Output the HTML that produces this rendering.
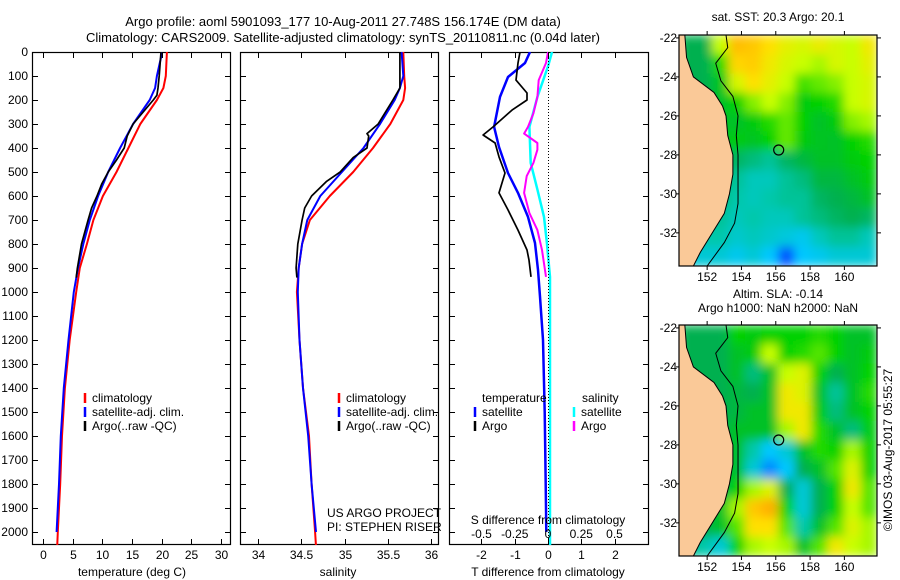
<!DOCTYPE html>
<html><head><meta charset="utf-8">
<style>
html,body{margin:0;padding:0;background:#fff;}
svg{display:block;font-family:"Liberation Sans",sans-serif;}
text{fill:#000;}
</style></head>
<body>
<svg id="c" width="900" height="580" viewBox="0 0 900 580">
<defs><filter id="smooth" x="0" y="0" width="1" height="1"><feGaussianBlur stdDeviation="5" edgeMode="duplicate"/></filter></defs>
</svg>
<script>
// ---------- data ----------
const depthTicks=[0,100,200,300,400,500,600,700,800,900,1000,1100,1200,1300,1400,1500,1600,1700,1800,1900,2000];
const tempTicks=[0,5,10,15,20,25,30];
const salTicks=[34,34.5,35,35.5,36];
const salTickLabels=["34","34.5","35","35.5","36"];
const dtTicks=[-2,-1,0,1,2];
const dsTicks=[-0.5,-0.25,0,0.25,0.5];
const dsTickLabels=["-0.5","-0.25","0","0.25","0.5"];

const climDepth=[0,100,150,200,300,400,500,600,700,800,900,1000,1200,1400,1600,1800,2000,2060];
const tempClim=[20.9,20.7,20.3,19.2,16.4,14.4,12.4,10.1,8.5,7.4,6.2,5.6,4.5,3.7,3.2,2.9,2.5,2.4];
const satDepth=[0,100,150,200,300,400,500,600,700,800,900,1000,1200,1400,1600,1800,2000];
const tempSat=[20.1,19.2,18.9,18.0,15.2,13.0,11.0,9.3,7.9,6.8,5.9,5.2,4.3,3.5,3.0,2.7,2.3];
const argoTempDepth=[0,100,150,180,200,250,300,350,400,450,500,550,600,650,700,800,900,940];
const argoTemp=[19.9,19.6,19.4,19.2,18.6,16.9,15.2,14.2,13.7,12.4,11.0,9.9,9.1,8.2,7.6,6.5,5.8,5.6];

const salClim=[35.68,35.69,35.70,35.68,35.53,35.33,35.10,34.83,34.60,34.51,34.47,34.45,34.48,34.52,34.59,34.62,34.66,34.67];
const salSat=[35.66,35.68,35.64,35.58,35.41,35.22,34.97,34.72,34.57,34.51,34.47,34.46,34.48,34.52,34.58,34.62,34.67];
const argoSalDepth=[0,50,150,200,300,340,350,400,440,500,540,600,650,700,800,900,940];
const argoSal=[35.64,35.64,35.64,35.56,35.39,35.26,35.28,35.26,35.10,34.95,34.79,34.62,34.54,34.51,34.46,34.44,34.45];

const argoDTdepth=[0,46,117,171,200,242,312,346,379,437,504,587,658,742,825,867,937];
const argoDT=[-0.84,-0.9,-0.96,-0.63,-0.63,-1.08,-1.65,-1.95,-1.59,-1.47,-1.29,-1.47,-1.2,-0.9,-0.63,-0.57,-0.51];
const satDTdepth=[0,46,104,187,312,396,504,587,687,796,908,1019,1200,1500,1800,2000];
const satDT=[-0.54,-0.69,-1.2,-1.44,-1.62,-1.47,-1.2,-0.9,-0.6,-0.39,-0.3,-0.24,-0.15,-0.1,-0.07,-0.05];
const argoDSdepth=[0,46,117,187,256,312,340,379,407,462,517,587,671,742,825,937];
const argoDS=[0,-0.015,-0.07,-0.08,-0.11,-0.15,-0.18,-0.08,-0.08,-0.11,-0.16,-0.18,-0.14,-0.08,-0.045,-0.015];
const satDSdepth=[0,60,187,312,462,573,687,796,937,1200,1600,2000,2060];
const satDS=[0.03,0,-0.08,-0.14,-0.13,-0.08,-0.03,-0.008,0.015,0.015,0.015,0.015,0.015];

const lonTicks=[152,154,156,158,160];
const latTicks=[-22,-24,-26,-28,-30,-32];
const sstGrid=[
[.5,.5,.72,.87,.85,.8,.76,.74,.77,.74,.72,.78],
[.5,.5,.62,.82,.84,.78,.74,.72,.7,.74,.72,.76],
[.5,.5,.56,.74,.8,.76,.72,.64,.66,.68,.72,.74],
[.5,.5,.55,.6,.68,.72,.68,.58,.6,.62,.72,.74],
[.5,.5,.55,.55,.58,.62,.66,.6,.55,.58,.68,.7],
[.5,.5,.55,.58,.56,.6,.66,.58,.56,.55,.6,.62],
[.5,.5,.5,.48,.45,.42,.48,.52,.55,.55,.58,.6],
[.45,.45,.45,.42,.38,.38,.42,.45,.52,.52,.55,.58],
[.45,.45,.45,.4,.38,.4,.42,.42,.48,.5,.52,.55],
[.45,.45,.42,.38,.4,.38,.38,.42,.45,.48,.5,.48],
[.4,.4,.4,.36,.38,.36,.34,.32,.38,.42,.42,.38],
[.35,.35,.35,.32,.35,.3,.2,.3,.32,.35,.35,.35]];
const slaGrid=[
[.5,.5,.5,.6,.58,.6,.6,.6,.62,.6,.55,.55],
[.5,.5,.5,.55,.58,.72,.6,.62,.65,.6,.55,.58],
[.5,.5,.5,.55,.45,.55,.72,.75,.6,.5,.55,.6],
[.5,.5,.5,.52,.5,.55,.78,.75,.55,.42,.55,.62],
[.5,.5,.5,.52,.55,.55,.78,.78,.58,.45,.55,.6],
[.5,.5,.5,.55,.55,.55,.7,.78,.62,.55,.45,.58],
[.5,.5,.5,.55,.4,.3,.35,.55,.62,.6,.7,.6],
[.5,.5,.5,.55,.35,.25,.3,.5,.55,.65,.75,.6],
[.5,.5,.5,.6,.7,.75,.5,.35,.5,.6,.78,.65],
[.5,.5,.55,.7,.85,.9,.6,.35,.5,.6,.72,.65],
[.5,.5,.55,.65,.8,.8,.65,.4,.55,.65,.75,.7],
[.45,.4,.35,.6,.7,.72,.7,.55,.65,.78,.72,.7]];
const coastLon=[150.7,150.8,151.2,152.4,152.9,153.1,153.2,153.5,153.5,153.3,153.0,152.3,151.6,151.2];
const coastLat=[-21.85,-23,-24,-24.8,-25.5,-26,-27,-28,-29,-30,-31,-32,-33,-33.7];
const isoLon=[153.1,153.2,152.5,152.8,153.5,153.8,153.7,153.8,153.8,153.8,153.6,153.0,152.0];
const isoLat=[-21.85,-22.5,-23.3,-24.2,-25,-26,-27,-28,-29.5,-30.5,-31.5,-32.5,-33.7];
const argoLon=156.17, argoLat=-27.75;

// ---------- helpers ----------
const NS="http://www.w3.org/2000/svg";
const svg=document.getElementById('c');
function el(tag,attrs,parent){const e=document.createElementNS(NS,tag);for(const k in attrs)e.setAttribute(k,attrs[k]);(parent||svg).appendChild(e);return e;}
function txt(x,y,s,anchor,size,parent){const t=el('text',{x:x,y:y,'text-anchor':anchor||'middle','font-size':size||12},parent);t.textContent=s;return t;}

const TOP=52,BOT=545;
const yD=d=>TOP+0.24*d;
const xT=v=>43+5.93*v;
const xS=v=>258+86.5*(v-34);
const xDT=v=>548+33.3*v;
const xDS=v=>548+133*v;

let t1=txt(343,26,"Argo profile: aoml 5901093_177 10-Aug-2011 27.748S 156.174E (DM data)",'middle',13);


let t2=txt(343,42,"Climatology: CARS2009. Satellite-adjusted climatology: synTS_20110811.nc (0.04d later)",'middle',13);



function panel(name,x0,x1){
  const g=el('g',{});
  
  
  const cp=el('clipPath',{id:'cp-'+name},g);
  el('rect',{x:x0,y:TOP,width:x1-x0,height:BOT-TOP},cp);
  const r=el('rect',{x:x0+0.5,y:TOP+0.5,width:x1-x0-1,height:BOT-TOP-1,fill:'none',stroke:'#000','stroke-width':1.2},g);
  
  
  depthTicks.forEach(d=>{
    const y=yD(d)+0.5;
    el('line',{x1:x0,x2:x0+6,y1:y,y2:y,stroke:'#000'},g);
    el('line',{x1:x1-6,x2:x1,y1:y,y2:y,stroke:'#000'},g);
  });
  const lines=el('g',{'clip-path':'url(#cp-'+name+')'},g);
  return {g,lines};
}
function xticks(g,arr,fx,labels){
  arr.forEach((v,i)=>{
    const x=Math.round(fx(v))+0.5;
    el('line',{x1:x,x2:x,y1:TOP,y2:TOP+6,stroke:'#000'},g);
    el('line',{x1:x,x2:x,y1:BOT-6,y2:BOT,stroke:'#000'},g);
    if(labels){const t=txt(x,559,labels[i],'middle',12,g);
      
      }
  });
}
function series(parent,depths,vals,fx,color,w,name){
  const pts=vals.map((v,i)=>fx(v).toFixed(1)+','+yD(depths[i]).toFixed(1)).join(' ');
  const p=el('polyline',{points:pts,fill:'none',stroke:color,'stroke-width':w,'stroke-linejoin':'round'},parent);
  
  
}
function legend(g,x,y,color,label){
  const m=el('line',{x1:x,x2:x,y1:y-9,y2:y+1,stroke:color,'stroke-width':2.5},g);
  
  
  const t=txt(x+7,y,label,'start',12,g);
  
  
}

depthTicks.forEach(d=>{const t=txt(28,yD(d)+4,String(d),'end',12);
  
  });

let p1=panel('temperature-panel',32,231);
xticks(p1.g,tempTicks,xT,tempTicks.map(String));
series(p1.lines,climDepth,tempClim,xT,'#f00',2,'temp-climatology-line');
series(p1.lines,satDepth,tempSat,xT,'#00f',2,'temp-satellite-line');
series(p1.lines,argoTempDepth,argoTemp,xT,'#000',1.7,'temp-argo-line');
legend(p1.g,85,402,'#f00','climatology');
legend(p1.g,85,416,'#00f','satellite-adj. clim.');
legend(p1.g,85,430,'#000','Argo(..raw -QC)');
let a1=txt(132,576,'temperature (deg C)','middle',12);



let p2=panel('salinity-panel',240,439);
xticks(p2.g,salTicks,xS,salTickLabels);
series(p2.lines,climDepth,salClim,xS,'#f00',2,'sal-climatology-line');
series(p2.lines,satDepth,salSat,xS,'#00f',2,'sal-satellite-line');
series(p2.lines,argoSalDepth,argoSal,xS,'#000',1.7,'sal-argo-line');
legend(p2.g,339,402,'#f00','climatology');
legend(p2.g,339,416,'#00f','satellite-adj. clim.');
legend(p2.g,339,430,'#000','Argo(..raw -QC)');
let u1=txt(327,517,'US ARGO PROJECT','start',12,p2.g);

let u2=txt(327,531,'PI: STEPHEN RISER','start',12,p2.g);

let a2=txt(338,576,'salinity','middle',12);



let p3=panel('difference-panel',449,649);
xticks(p3.g,dtTicks,xDT,dtTicks.map(String));
let zl=el('line',{x1:548.5,x2:548.5,y1:TOP,y2:BOT,stroke:'#000','stroke-dasharray':'1,2'},p3.g);

series(p3.lines,satDTdepth,satDT,xDT,'#00f',2.5,'tdiff-satellite-line');
series(p3.lines,argoDTdepth,argoDT,xDT,'#000',1.7,'tdiff-argo-line');
series(p3.lines,satDSdepth,satDS,xDS,'#0ff',2.5,'sdiff-satellite-line');
series(p3.lines,argoDSdepth,argoDS,xDS,'#f0f',2,'sdiff-argo-line');
let lt=txt(482,402,'temperature','start',12,p3.g);
let ls=txt(582,402,'salinity','start',12,p3.g);
legend(p3.g,475,416,'#00f','satellite');
legend(p3.g,475,430,'#000','Argo');
legend(p3.g,574,416,'#0ff','satellite');
legend(p3.g,574,430,'#f0f','Argo');
let st=txt(548,524,'S difference from climatology','middle',12,p3.g);

dsTicks.forEach((v,i)=>{const t=txt(xDS(v),538,dsTickLabels[i],'middle',12,p3.g);
  });
let a3=txt(548,576,'T difference from climatology','middle',12);



// ---------- maps ----------
const stops=[[0,[0,0,190]],[0.2,[0,80,255]],[0.3,[0,200,255]],[0.4,[0,200,170]],[0.5,[0,176,80]],[0.6,[0,210,0]],[0.72,[200,255,0]],[0.8,[255,224,0]],[0.9,[255,176,0]],[1,[255,128,0]]];
function cmap(v){for(let i=1;i<stops.length;i++){if(v<=stops[i][0]){const a=stops[i-1],b=stops[i];const f=(v-a[0])/(b[0]-a[0]);
  const c=a[1].map((q,k)=>Math.round(q+(b[1][k]-q)*f));return 'rgb('+c.join(',')+')';}}return 'rgb(255,128,0)';}
const LON0=150.36,LON1=161.9,LAT0=-21.85,LAT1=-33.7;
function map(name,top,grid,title){
  const L=679,R=877,T=top,B=top+231;
  const mx=lon=>L+(lon-LON0)/(LON1-LON0)*(R-L);
  const my=lat=>T+(lat-LAT0)/(LAT1-LAT0)*(B-T);
  const g=el('g',{});
  
  
  const cp=el('clipPath',{id:'cp-'+name},g);
  el('rect',{x:L,y:T,width:R-L,height:B-T},cp);
  const clipG=el('g',{'clip-path':'url(#cp-'+name+')'},g);
  const hm=el('g',{filter:'url(#smooth)'},clipG);
  
  
  const rows=grid.length,cols=grid[0].length;
  const cw=(R-L)/cols,ch=(B-T)/rows;
  grid.forEach((row,r)=>row.forEach((v,c)=>{
    const cell=el('rect',{x:L+c*cw,y:T+r*ch,width:cw+0.5,height:ch+0.5,fill:cmap(v)},hm);
    
    
  }));
  const land=[[L,T]].concat(coastLon.map((lo,i)=>[mx(lo),my(coastLat[i])])).concat([[L,B]]);
  const lp=el('polygon',{points:land.map(p=>p.join(',')).join(' '),fill:'#fac998',stroke:'#000','stroke-width':1},clipG);
  
  const iso=el('polyline',{points:isoLon.map((lo,i)=>mx(lo)+','+my(isoLat[i])).join(' '),fill:'none',stroke:'#000','stroke-width':1},clipG);
  
  const ci=el('circle',{cx:mx(argoLon),cy:my(argoLat),r:5,fill:'none',stroke:'#000','stroke-width':1.2},g);
  
  const fr=el('rect',{x:L,y:T,width:R-L,height:B-T,fill:'none',stroke:'#000','stroke-width':1.2},g);
  
  lonTicks.forEach(lo=>{const x=mx(lo);
    el('line',{x1:x,x2:x,y1:T-4,y2:T,stroke:'#000'},g);
    el('line',{x1:x,x2:x,y1:B,y2:B+4,stroke:'#000'},g);
    const t=txt(x,B+15,String(lo),'middle',12,g);
    });
  latTicks.forEach(la=>{const y=my(la);
    el('line',{x1:R,x2:R+4,y1:y,y2:y,stroke:'#000'},g);
    el('line',{x1:L-3,x2:L,y1:y,y2:y,stroke:'#000'},g);
    const t=txt(L-2,y+4,String(la),'end',12,g);
    });
  title.forEach((s,i)=>{const t=txt(778,top-(title.length-i)*14+(title.length===1?-1:0)+1,s,'middle',12,g);
    });
}
map('sst-map',35,sstGrid,['sat. SST: 20.3 Argo: 20.1']);
map('sla-map',325,slaGrid,['Altim. SLA: -0.14','Argo h1000: NaN h2000: NaN']);

let cr=txt(0,0,'©IMOS 03-Aug-2017 05:55:27','middle',12);
cr.setAttribute('transform','translate(892,450) rotate(-90)');


</script>
</body></html>
